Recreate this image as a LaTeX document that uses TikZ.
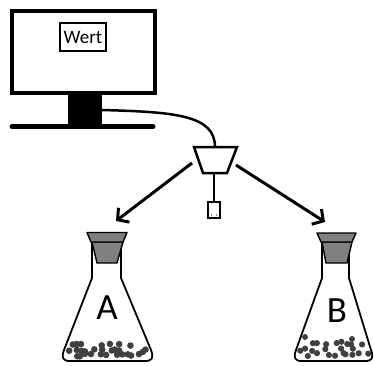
\documentclass[tikz,border=0pt]{standalone}
\usepackage{fontspec}
\setmainfont{Carlito}
\usetikzlibrary{arrows.meta}
\begin{document}
\begin{tikzpicture}[x=1pt,y=-1pt,
  frame/.style={line width=4pt},
  cable/.style={line width=2.5pt},
  thin outline/.style={line width=1.6pt},
  flaskline/.style={line width=1.8pt, line join=round, fill=white},
  stopper/.style={line width=1.4pt, fill=black!50, line join=round},
  pellet/.style={fill=black!75, draw=none},
  flow/.style={line width=3pt, -{Straight Barb[length=8pt,width=18pt,line width=3pt]}},
  label/.style={font=\fontsize{37}{40}\selectfont, inner sep=0pt}
]
\useasboundingbox (0,0) rectangle (374,365);

% monitor
\draw[frame] (12,11) rectangle (155,93);
\node[draw, thin outline, minimum width=46pt, minimum height=28pt, inner sep=0pt,
      font=\fontsize{19}{21}\selectfont] (wert) at (83,37) {Wert};
\fill (68,93) rectangle (102,124);
\draw[line width=5pt, line cap=round] (12,126.5) -- (153,126.5);
\coordinate (plug) at (102,110);

% adapter
\coordinate (adtop) at (215,147);
\draw[line width=2.5pt, line join=miter] (194,147) -- (237,147) -- (227,173) -- (203,173) -- cycle;
\coordinate (adbot) at (214,173);
\coordinate (sensor) at (214,202);
\draw[line width=2pt] (adbot) -- (sensor);
\draw[line width=1.6pt] (208,202) rectangle (220,218);
\fill[black!45] (210.5,213.5) rectangle (211.5,215.5);
\fill[black!45] (216,213.5) rectangle (217,215.5);

% cable
\draw[cable] (plug) .. controls (175,112) and (215,115) .. (adtop);

% arrows
\coordinate (outL) at (192,163);
\coordinate (outR) at (236,165);
\coordinate (tipL) at (116,221);
\coordinate (tipR) at (325,222);
\draw[flow] (outL) -- (tipL);
\draw[flow] (outR) -- (tipR);

% flask A
\begin{scope}
  \path[flaskline, draw] (92,242) -- (92,278) -- (64,350)
     .. controls (61,358) and (63,361) .. (70,361) -- (145,361)
     .. controls (152,361) and (154,358) .. (151,350) -- (121,278) -- (121,242);
  \clip (92,278) -- (64,350) .. controls (61,358) and (63,361) .. (70,361) -- (145,361)
     .. controls (152,361) and (154,358) .. (151,350) -- (121,278) -- cycle;
  \pgfmathsetseed{11}
  \foreach \cx in {71,76,...,147}{
    \foreach \cy in {345,350.5,355}{
      \pgfmathsetmacro{\keep}{rnd}
      \pgfmathsetmacro{\px}{\cx+(rnd-0.5)*4}
      \pgfmathsetmacro{\py}{\cy+(rnd-0.5)*3}
      \ifdim\keep pt>0.3pt
        \fill[pellet] (\px,\py) circle (3.3pt);
      \fi
    }
  }
\end{scope}
\draw[stopper] (92,242) -- (123,242) -- (117,263) -- (97,263) -- cycle;
\draw[stopper] (87,232.5) -- (127,232.5) -- (123,242) -- (91,242) -- cycle;
\node[label] (labA) at (107,308) {A};

% flask B
\begin{scope}
  \path[flaskline, draw] (322,242) -- (322,278) -- (296,350)
     .. controls (293,358) and (295,361) .. (302,361) -- (365,361)
     .. controls (372,361) and (374,358) .. (371,350) -- (349,278) -- (349,242);
  \clip (322,278) -- (296,350) .. controls (293,358) and (295,361) .. (302,361) -- (365,361)
     .. controls (372,361) and (374,358) .. (371,350) -- (349,278) -- cycle;
  \pgfmathsetseed{23}
  \foreach \cx in {302,307,...,369}{
    \foreach \cy in {343,349,355}{
      \pgfmathsetmacro{\keep}{rnd}
      \pgfmathsetmacro{\px}{\cx+(rnd-0.5)*4}
      \pgfmathsetmacro{\py}{\cy+(rnd-0.5)*4}
      \ifdim\keep pt>0.45pt
        \fill[pellet] (\px,\py) circle (3.1pt);
      \fi
    }
  }
  \fill[pellet] (305,337) circle (3pt);
  \fill[pellet] (352,339) circle (3pt);
\end{scope}
\draw[stopper] (322,242) -- (352,242) -- (347,263) -- (326,263) -- cycle;
\draw[stopper] (317,233) -- (356,233) -- (352,242) -- (321,242) -- cycle;
\node[label] (labB) at (337,311) {B};
\end{tikzpicture}
\end{document}
